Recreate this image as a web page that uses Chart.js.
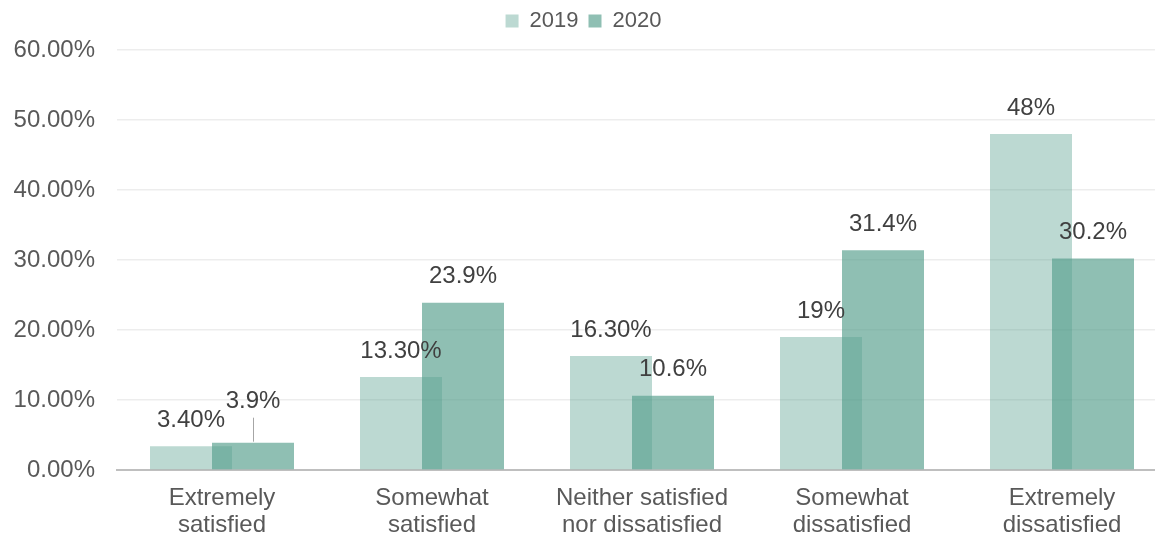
<!DOCTYPE html>
<html>
<head>
<meta charset="UTF-8">
<title>Satisfaction 2019 vs 2020</title>
<script src="https://cdn.jsdelivr.net/npm/chart.js@4.4.1/dist/chart.umd.min.js"></script>
<style>
  html, body { margin: 0; padding: 0; background: #fff; overflow: hidden; }
  #wrap { position: relative; width: 1167px; height: 538px; }
</style>
</head>
<body>
<div id="wrap"><canvas id="canvas"></canvas></div>
<script>
var categories = [
  ['Extremely', 'satisfied'],
  ['Somewhat', 'satisfied'],
  ['Neither satisfied', 'nor dissatisfied'],
  ['Somewhat', 'dissatisfied'],
  ['Extremely', 'dissatisfied']
];
var seriesNames = ['2019', '2020'];
var values2019 = [3.4, 13.3, 16.3, 19, 48];
var values2020 = [3.9, 23.9, 10.6, 31.4, 30.2];
var labels2019 = ['3.40%', '13.30%', '16.30%', '19%', '48%'];
var labels2020 = ['3.9%', '23.9%', '10.6%', '31.4%', '30.2%'];
var yTicks = [0, 10, 20, 30, 40, 50, 60];

var FONT = "'Liberation Sans', Arial, sans-serif";

// value labels above bars (no datalabels plugin available)
var barLabels = {
  id: 'barLabels',
  afterDatasetsDraw: function(chart) {
    var ctx = chart.ctx;
    var texts = [labels2019, labels2020];
    ctx.save();
    ctx.font = '24px ' + FONT;
    ctx.fillStyle = '#404040';
    ctx.textAlign = 'center';
    ctx.textBaseline = 'middle';
    chart.data.datasets.forEach(function(ds, di) {
      chart.getDatasetMeta(di).data.forEach(function(bar, i) {
        var y = bar.y - 26;
        if (di === 1 && i === 0) {
          // lifted label with a leader line
          y = bar.y - 41;
          ctx.strokeStyle = '#a6a6a6';
          ctx.lineWidth = 1;
          ctx.beginPath();
          ctx.moveTo(Math.round(bar.x) + 0.5, bar.y - 25);
          ctx.lineTo(Math.round(bar.x) + 0.5, bar.y - 1);
          ctx.stroke();
        }
        ctx.fillText(texts[di][i], bar.x, y);
      });
    });
    ctx.restore();
  }
};

// fixed legend height so the plot starts where the reference does
var legendHeight = {
  id: 'legendHeight',
  beforeInit: function(chart) {
    var orig = chart.legend.fit;
    chart.legend.fit = function() {
      orig.call(chart.legend);
      this.height = 50;
    };
  }
};

new Chart(document.getElementById('canvas'), {
  type: 'bar',
  data: {
    labels: categories,
    datasets: [
      {
        label: seriesNames[0],
        data: values2019,
        backgroundColor: 'rgba(88,160,142,0.4)',
        borderWidth: 0
      },
      {
        label: seriesNames[1],
        data: values2020,
        backgroundColor: 'rgba(88,160,142,0.67)',
        borderWidth: 0
      }
    ]
  },
  options: {
    responsive: true,
    maintainAspectRatio: false,
    animation: false,
    categoryPercentage: 124 / 210,
    barPercentage: 82 / 62,
    layout: { padding: 0 },
    plugins: {
      legend: {
        position: 'top',
        labels: {
          boxWidth: 13,
          boxHeight: 13,
          padding: 10,
          color: '#595959',
          font: { family: FONT, size: 22 }
        }
      },
      tooltip: { enabled: false }
    },
    scales: {
      x: {
        grid: { display: false, drawTicks: false },
        border: { display: true, color: '#bfbfbf', width: 2 },
        ticks: {
          color: '#595959',
          padding: 15,
          maxRotation: 0,
          autoSkip: false,
          font: { family: FONT, size: 24, lineHeight: 1.12 }
        },
        afterFit: function(scale) { scale.height = 68; }
      },
      y: {
        min: 0,
        max: 60,
        afterBuildTicks: function(scale) {
          scale.ticks = yTicks.map(function(v) { return { value: v }; });
        },
        grid: { color: '#ededed', lineWidth: 1.5, drawTicks: false },
        border: { display: false },
        ticks: {
          color: '#595959',
          padding: 22,
          font: { family: FONT, size: 24 },
          callback: function(v) { return v.toFixed(2) + '%'; }
        },
        afterFit: function(scale) { scale.width = 117; }
      }
    }
  },
  plugins: [barLabels, legendHeight]
});
</script>
</body>
</html>
